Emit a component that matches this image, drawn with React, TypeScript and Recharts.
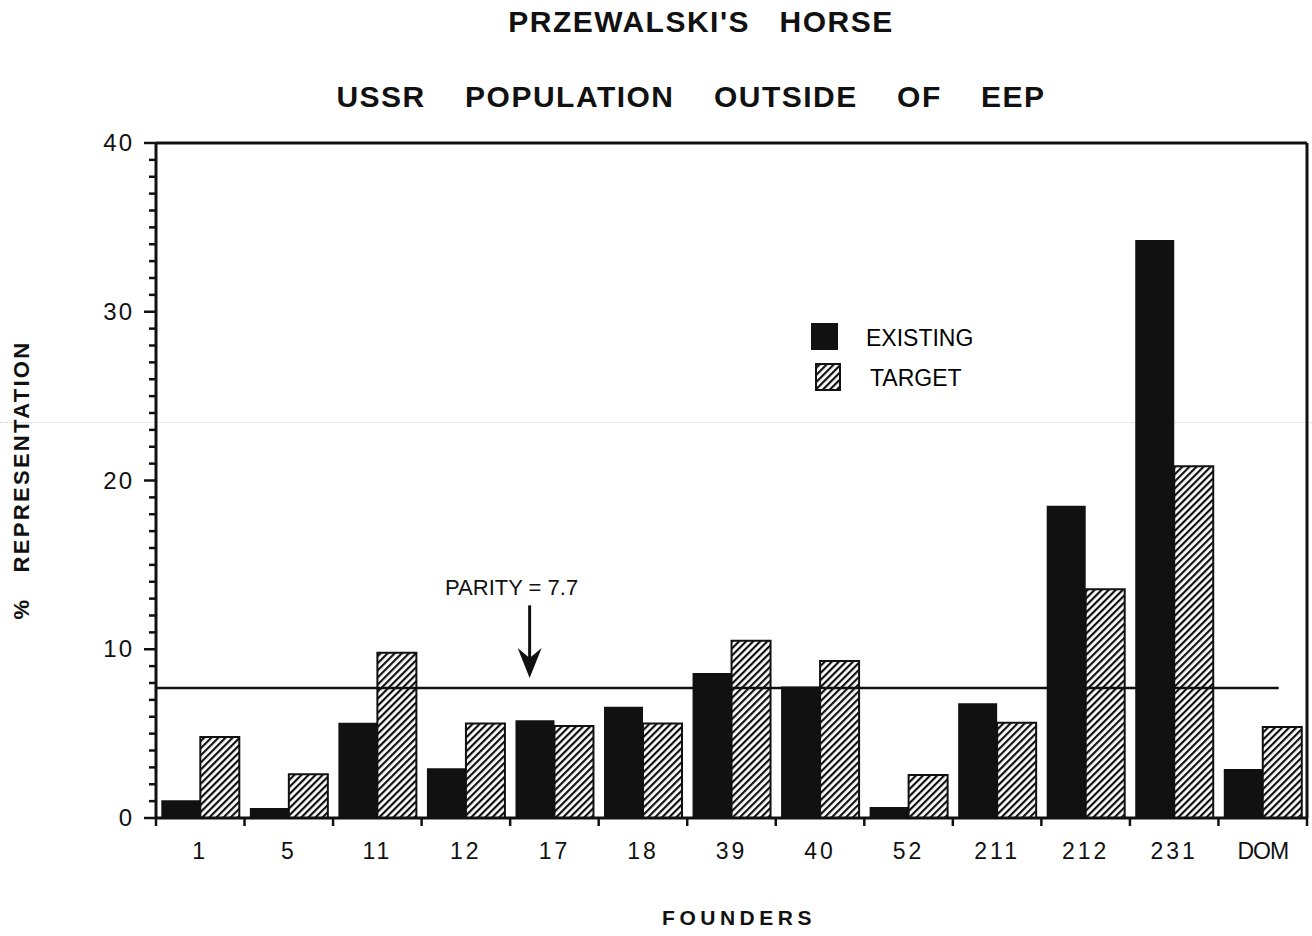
import { BarChart, Bar, XAxis, YAxis, ReferenceLine, Legend } from "recharts";

const founders = ["1", "5", "11", "12", "17", "18", "39", "40", "52", "211", "212", "231", "DOM"];
const existing = [1.05, 0.6, 5.65, 2.95, 5.8, 6.6, 8.6, 7.8, 0.65, 6.8, 18.5, 34.25, 2.9];
const target = [4.8, 2.6, 9.8, 5.6, 5.45, 5.6, 10.5, 9.3, 2.55, 5.65, 13.55, 20.85, 5.4];
const yTicks = [0, 1, 2, 3, 4, 5, 6, 7, 8, 9, 10, 11, 12, 13, 14, 15, 16, 17, 18, 19, 20, 21, 22, 23, 24, 25, 26, 27, 28, 29, 30, 31, 32, 33, 34, 35, 36, 37, 38, 39, 40];
const parity = 7.7;
// boundary ticks on whole numbers, labels on the halves
const xTicks = [0, 0.5, 1, 1.5, 2, 2.5, 3, 3.5, 4, 4.5, 5, 5.5, 6, 6.5, 7, 7.5, 8, 8.5, 9, 9.5, 10, 10.5, 11, 11.5, 12, 12.5, 13];

// slot = index of the founder, used by the numeric axis that carries the boundary ticks
const data = founders.map((f, i) => ({ founder: f, slot: i + 0.5, existing: existing[i], target: target[i] }));

const FONT = '"Liberation Sans", Arial, Helvetica, sans-serif';
const INK = "#111";

function YTick(props: any) {
  const { x, y, payload } = props;
  const major = payload.value % 10 === 0;
  return (
    <g>
      <line x1={x - (major ? 12 : 7)} x2={x} y1={y} y2={y} stroke={INK} strokeWidth={2.5} />
      {major && (
        <text x={x - 22} y={y} dy={8} textAnchor="end" fontSize={24} letterSpacing={2} fill={INK} fontFamily={FONT}>
          {payload.value}
        </text>
      )}
    </g>
  );
}

function XTick(props: any) {
  const { x, y, payload } = props;
  const v = payload.value;
  if (Number.isInteger(v)) {
    return <line x1={x} x2={x} y1={y} y2={y + 8} stroke={INK} strokeWidth={2.5} />;
  }
  const label = founders[Math.floor(v)];
  return (
    <text x={x} y={y + 41} textAnchor="middle" fontSize={23} letterSpacing={label === "DOM" ? -1 : 3} fill={INK} fontFamily={FONT}>
      {label}
    </text>
  );
}

function ParityArrow(props: any) {
  const { x1, y1, x2, y2 } = props;
  return (
    <g>
      <line x1={x1} y1={y1} x2={x2} y2={y2 - 18} stroke={INK} strokeWidth={3} />
      <path d={`M${x2},${y2} L${x2 - 12},${y2 - 30} L${x2},${y2 - 20} L${x2 + 12},${y2 - 30} Z`} fill={INK} />
      <text x={x1 - 18} y={y1 - 10} textAnchor="middle" fontSize={22} fill={INK} fontFamily={FONT}>
        PARITY = 7.7
      </text>
    </g>
  );
}

function LegendBox() {
  return (
    <div style={{ fontFamily: FONT, fontSize: 23, color: INK }}>
      <svg width={200} height={75} style={{ display: "block" }}>
        <defs>
          <pattern id="hatchLegend" patternUnits="userSpaceOnUse" width={5} height={5} patternTransform="rotate(45)">
            <rect x={0} y={0} width={2.2} height={5} fill={INK} />
          </pattern>
        </defs>
        <rect x={3} y={5} width={27} height={27} fill={INK} />
        <rect x={8} y={46} width={24} height={26} fill="url(#hatchLegend)" stroke={INK} strokeWidth={2} />
        <text x={58} y={28} fontSize={23}>EXISTING</text>
        <text x={62} y={68} fontSize={23}>TARGET</text>
      </svg>
    </div>
  );
}

export default function App() {
  return (
    <div style={{ position: "absolute", left: 0, top: 0, width: 1312, height: 936, background: "#fff", fontFamily: FONT }}>
      <div style={{ position: "absolute", top: 422, left: 0, width: 1312, borderTop: "1px dotted #d0d0d0" }} />
      <div style={{ position: "absolute", top: 6, left: 0, width: 1402, textAlign: "center", fontSize: 30, fontWeight: 700, letterSpacing: 1.5, whiteSpace: "pre", lineHeight: "32px", color: INK }}>
        {"PRZEWALSKI'S   HORSE"}
      </div>
      <div style={{ position: "absolute", top: 81, left: 0, width: 1382, textAlign: "center", fontSize: 30, fontWeight: 700, letterSpacing: 1.5, whiteSpace: "pre", lineHeight: "32px", color: INK }}>
        {"USSR    POPULATION    OUTSIDE    OF    EEP"}
      </div>
      <div style={{ position: "absolute", left: 22, top: 480, transform: "translate(-50%, -50%) rotate(-90deg)", fontSize: 22, fontWeight: 700, letterSpacing: 2.3, whiteSpace: "pre", color: INK }}>
        {"%   REPRESENTATION"}
      </div>
      <div style={{ position: "absolute", left: 739, top: 918, transform: "translate(-50%, -50%)", fontSize: 21, fontWeight: 700, letterSpacing: 4.5, color: INK }}>
        FOUNDERS
      </div>
      <BarChart
        width={1312}
        height={936}
        data={data}
        margin={{ top: 143, right: 5, bottom: 78, left: 96 }}
        barCategoryGap="6%"
        barGap={0}
        style={{ position: "absolute", left: 0, top: 0 }}
      >
        <defs>
          <pattern id="hatch" patternUnits="userSpaceOnUse" width={5} height={5} patternTransform="rotate(45)">
            <rect x={0} y={0} width={5} height={5} fill="#fff" />
            <rect x={0} y={0} width={2.2} height={5} fill={INK} />
          </pattern>
        </defs>
        <XAxis xAxisId="cat" dataKey="founder" hide height={0} />
        <XAxis
          xAxisId="num"
          dataKey="slot"
          type="number"
          domain={[0, 13]}
          allowDataOverflow
          ticks={xTicks}
          interval={0}
          height={40}
          tickSize={0}
          tickMargin={0}
          tickLine={false}
          tick={<XTick />}
          axisLine={{ stroke: INK, strokeWidth: 3 }}
        />
        <YAxis
          domain={[0, 40]}
          ticks={yTicks}
          interval={0}
          width={60}
          tickSize={0}
          tickMargin={0}
          tickLine={false}
          tick={<YTick />}
          axisLine={{ stroke: INK, strokeWidth: 3 }}
        />
        <Legend
          layout="vertical"
          align="center"
          verticalAlign="middle"
          content={<LegendBox />}
          wrapperStyle={{ left: 808, top: 318, width: 200 }}
        />
        <Bar xAxisId="cat" dataKey="existing" name="EXISTING" fill={INK} isAnimationActive={false} />
        <Bar xAxisId="cat" dataKey="target" name="TARGET" fill="url(#hatch)" stroke={INK} strokeWidth={2} isAnimationActive={false} />
        <ReferenceLine xAxisId="num" y={40} stroke={INK} strokeWidth={3} />
        <ReferenceLine xAxisId="num" x={13} stroke={INK} strokeWidth={3} />
        <ReferenceLine
          xAxisId="num"
          segment={[{ x: 0, y: parity }, { x: 12.68, y: parity }]}
          stroke={INK}
          strokeWidth={2.5}
        />
        <ReferenceLine
          xAxisId="num"
          segment={[{ x: 4.22, y: 12.6 }, { x: 4.22, y: 8.3 }]}
          shape={<ParityArrow />}
        />
      </BarChart>
    </div>
  );
}
